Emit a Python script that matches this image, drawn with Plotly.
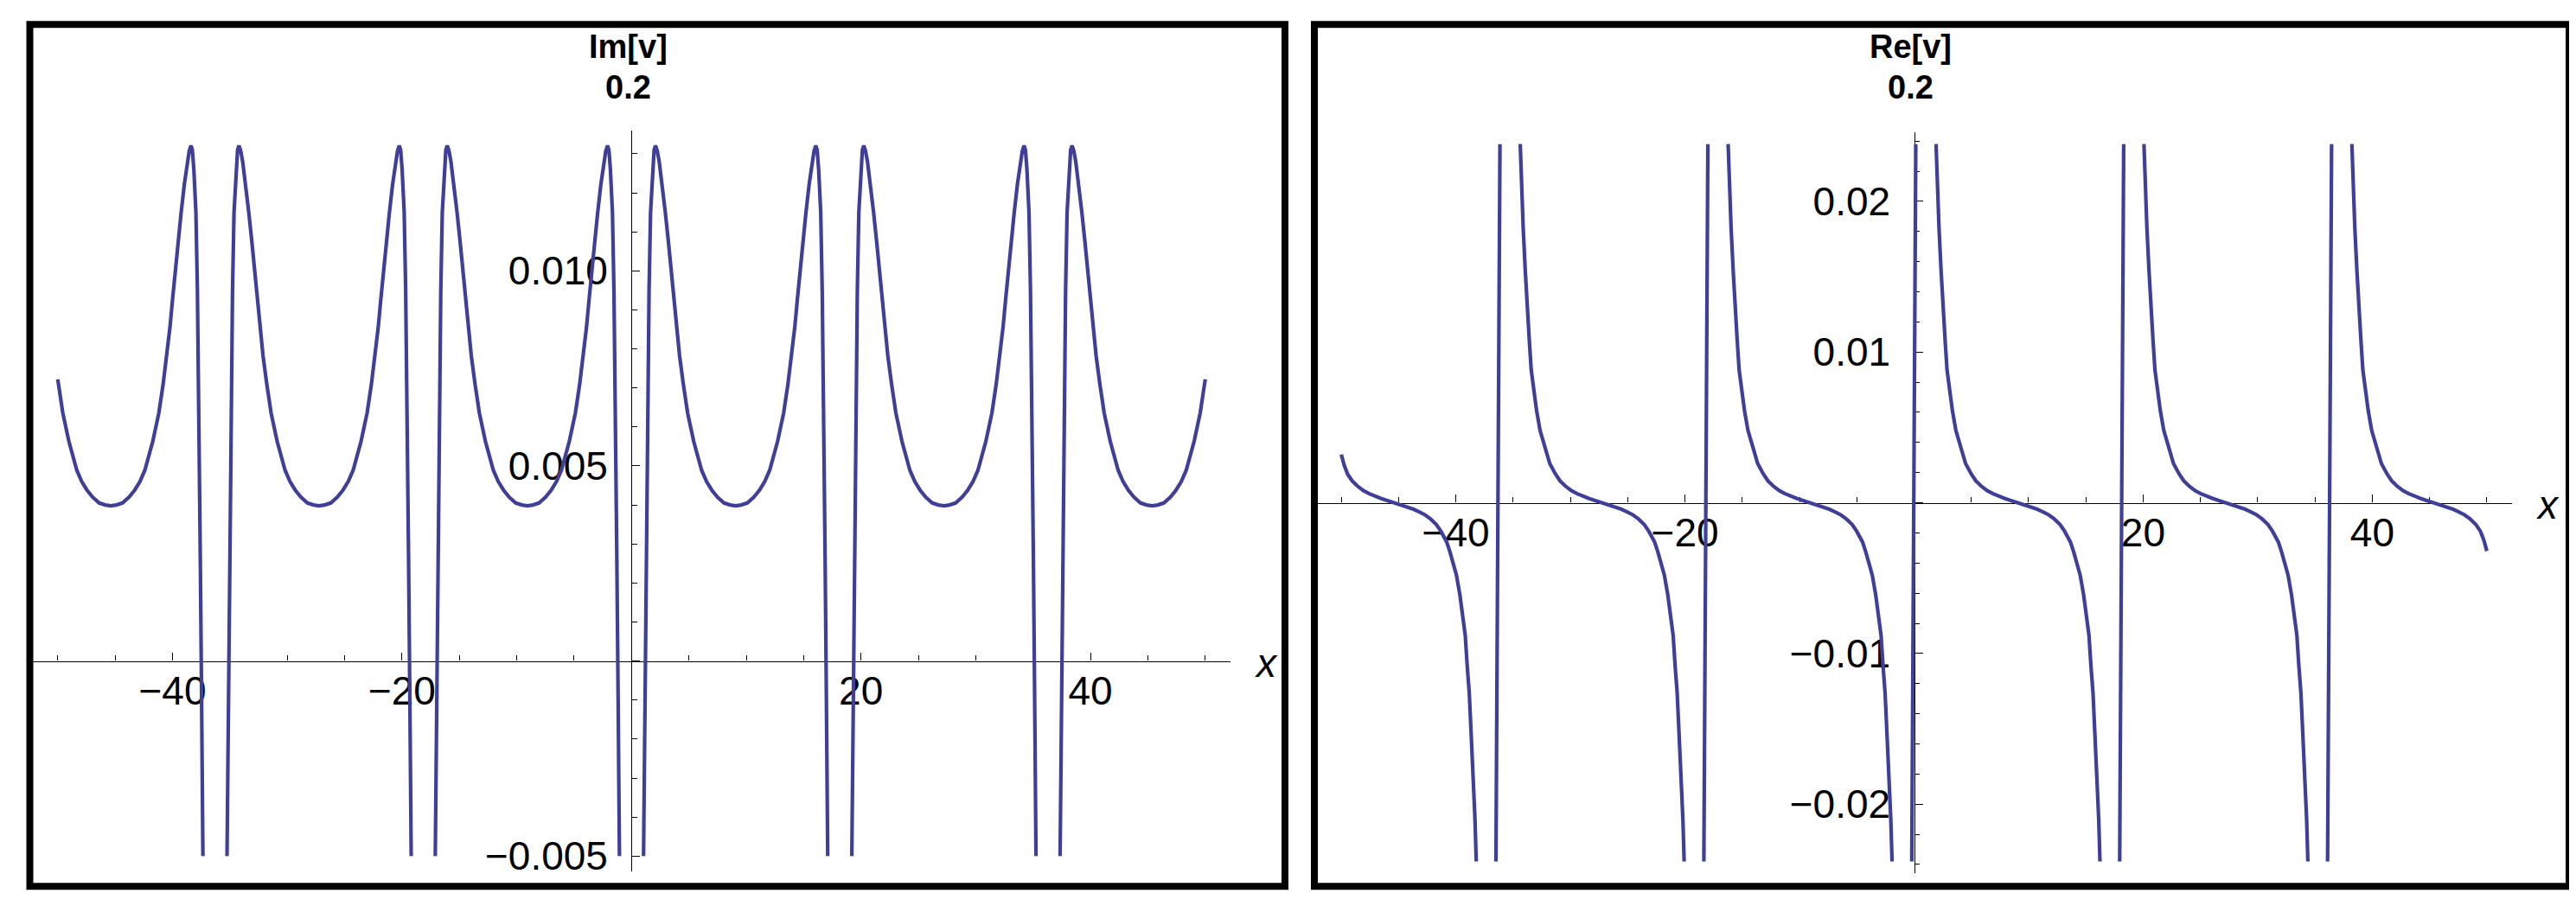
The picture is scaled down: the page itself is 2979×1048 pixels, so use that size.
# plot.py
#
# Two Mathematica-style panels, Im[v] and Re[v] against x,
# with the axes crossing at the origin and a heavy frame round each panel.

import plotly.graph_objects as go


# ── Read-off data ──────────────────────────────────────
# Im[v]: one list per unbroken piece of the curve (the curve runs off
# the bottom of the plot range near x = 0, ±18.15, ±36.3).
im_x_left_end = [-50.00, -49.56, -49.03, -48.34, -47.91, -47.45, -46.96, -46.39, -45.86, -45.38,
                 -44.89, -44.36, -43.79, -43.30, -42.84, -42.41, -41.72, -41.19, -40.82, -40.49,
                 -40.22, -39.99, -39.76, -39.51, -39.25, -38.97, -38.71, -38.54, -38.39, -38.27,
                 -38.14, -37.96, -37.83, -37.76, -37.68, -37.63, -37.58, -37.48, -37.35]
im_y_left_end = [0.00722, 0.00636, 0.00563, 0.00489, 0.00460, 0.00438, 0.00420, 0.00405, 0.00400, 0.00398,
                 0.00400, 0.00405, 0.00420, 0.00438, 0.00460, 0.00489, 0.00563, 0.00636, 0.00709, 0.00782,
                 0.00856, 0.00929, 0.01002, 0.01076, 0.01149, 0.01222, 0.01281, 0.01308, 0.01321, 0.0131,
                 0.0126, 0.0115, 0.0095, 0.0080, 0.0064, 0.0044, 0.0027, -0.0005, -0.0050]

# the four full cells between the drops all read the same heights
im_y_cell = [-0.0050, -0.0005, 0.0027, 0.0044, 0.0064, 0.0080, 0.0095, 0.0115, 0.0126, 0.0131,
             0.01321, 0.01308, 0.01281, 0.01222, 0.01149, 0.01076, 0.01002, 0.00929, 0.00856, 0.00782,
             0.00709, 0.00636, 0.00563, 0.00489, 0.00460, 0.00438, 0.00420, 0.00405, 0.00400, 0.00398,
             0.00400, 0.00405, 0.00420, 0.00438, 0.00460, 0.00489, 0.00563, 0.00636, 0.00709, 0.00782,
             0.00856, 0.00929, 0.01002, 0.01076, 0.01149, 0.01222, 0.01281, 0.01308, 0.01321, 0.0131,
             0.0126, 0.0115, 0.0095, 0.0080, 0.0064, 0.0044, 0.0027, -0.0005, -0.0050]
im_x_cell_1 = [-35.25, -35.12, -35.02, -34.97, -34.92, -34.84, -34.77, -34.64, -34.46, -34.33,
               -34.21, -34.06, -33.89, -33.63, -33.35, -33.09, -32.84, -32.61, -32.38, -32.11,
               -31.78, -31.41, -30.88, -30.19, -29.76, -29.30, -28.81, -28.24, -27.71, -27.23,
               -26.74, -26.21, -25.64, -25.15, -24.69, -24.26, -23.57, -23.04, -22.67, -22.34,
               -22.07, -21.84, -21.61, -21.36, -21.10, -20.82, -20.56, -20.39, -20.24, -20.12,
               -19.99, -19.81, -19.68, -19.61, -19.53, -19.48, -19.43, -19.33, -19.20]
im_x_cell_2 = [-17.10, -16.97, -16.87, -16.82, -16.77, -16.69, -16.62, -16.49, -16.31, -16.18,
               -16.06, -15.91, -15.74, -15.48, -15.20, -14.94, -14.69, -14.46, -14.23, -13.96,
               -13.63, -13.26, -12.73, -12.04, -11.61, -11.15, -10.66, -10.09, -9.56, -9.08,
               -8.59, -8.06, -7.49, -7.00, -6.54, -6.11, -5.42, -4.89, -4.52, -4.19,
               -3.92, -3.69, -3.46, -3.21, -2.95, -2.67, -2.41, -2.24, -2.09, -1.97,
               -1.84, -1.66, -1.53, -1.46, -1.38, -1.33, -1.28, -1.18, -1.05]
im_x_cell_3 = [1.05, 1.18, 1.28, 1.33, 1.38, 1.46, 1.53, 1.66, 1.84, 1.97,
               2.09, 2.24, 2.41, 2.67, 2.95, 3.21, 3.46, 3.69, 3.92, 4.19,
               4.52, 4.89, 5.42, 6.11, 6.54, 7.00, 7.49, 8.06, 8.59, 9.08,
               9.56, 10.09, 10.66, 11.15, 11.61, 12.04, 12.73, 13.26, 13.63, 13.96,
               14.23, 14.46, 14.69, 14.94, 15.20, 15.48, 15.74, 15.91, 16.06, 16.18,
               16.31, 16.49, 16.62, 16.69, 16.77, 16.82, 16.87, 16.97, 17.10]
im_x_cell_4 = [19.20, 19.33, 19.43, 19.48, 19.53, 19.61, 19.68, 19.81, 19.99, 20.12,
               20.24, 20.39, 20.56, 20.82, 21.10, 21.36, 21.61, 21.84, 22.07, 22.34,
               22.67, 23.04, 23.57, 24.26, 24.69, 25.15, 25.64, 26.21, 26.74, 27.23,
               27.71, 28.24, 28.81, 29.30, 29.76, 30.19, 30.88, 31.41, 31.78, 32.11,
               32.38, 32.61, 32.84, 33.09, 33.35, 33.63, 33.89, 34.06, 34.21, 34.33,
               34.46, 34.64, 34.77, 34.84, 34.92, 34.97, 35.02, 35.12, 35.25]

im_x_right_end = [37.35, 37.48, 37.58, 37.63, 37.68, 37.76, 37.83, 37.96, 38.14, 38.27,
                  38.39, 38.54, 38.71, 38.97, 39.25, 39.51, 39.76, 39.99, 40.22, 40.49,
                  40.82, 41.19, 41.72, 42.41, 42.84, 43.30, 43.79, 44.36, 44.89, 45.38,
                  45.86, 46.39, 46.96, 47.45, 47.91, 48.34, 49.03, 49.56, 50.00]
im_y_right_end = [-0.0050, -0.0005, 0.0027, 0.0044, 0.0064, 0.0080, 0.0095, 0.0115, 0.0126, 0.0131,
                  0.01321, 0.01308, 0.01281, 0.01222, 0.01149, 0.01076, 0.01002, 0.00929, 0.00856, 0.00782,
                  0.00709, 0.00636, 0.00563, 0.00489, 0.00460, 0.00438, 0.00420, 0.00405, 0.00400, 0.00398,
                  0.00400, 0.00405, 0.00420, 0.00438, 0.00460, 0.00489, 0.00563, 0.00636, 0.00722]

# Re[v]: branches between the jumps, clipped at the top/bottom of the range
re_x_left_end = [-50.00, -49.75, -49.45, -49.05, -48.55, -48.05, -47.55, -47.05, -46.55, -46.05,
                 -45.375, -44.70, -44.20, -43.70, -43.20, -42.70, -42.20, -41.70, -41.30, -40.80,
                 -40.50, -40.20, -39.95, -39.65, -39.40, -39.18, -39.01, -38.83, -38.66, -38.48,
                 -38.33, -38.22]
re_y_left_end = [0.0032, 0.0025, 0.0019, 0.00145, 0.00108, 0.0008, 0.0006, 0.00043, 0.00029, 0.00016,
                 0.0, -0.00016, -0.00029, -0.00043, -0.0006, -0.0008, -0.00108, -0.00145, -0.0019, -0.0026,
                 -0.0033, -0.0041, -0.0048, -0.0061, -0.0074, -0.0088, -0.0108, -0.0126, -0.0154, -0.0182,
                 -0.0210, -0.0238]

re_y_cell = [0.0238, 0.0210, 0.0182, 0.0154, 0.0126, 0.0108, 0.0088, 0.0074, 0.0061, 0.0048,
             0.0041, 0.0033, 0.0026, 0.0019, 0.00145, 0.00108, 0.0008, 0.0006, 0.00043, 0.00029,
             0.00016, 0.0, -0.00016, -0.00029, -0.00043, -0.0006, -0.0008, -0.00108, -0.00145, -0.0019,
             -0.0026, -0.0033, -0.0041, -0.0048, -0.0061, -0.0074, -0.0088, -0.0108, -0.0126, -0.0154,
             -0.0182, -0.0210, -0.0238]
re_x_cell_1 = [-34.38, -34.27, -34.12, -33.94, -33.77, -33.59, -33.42, -33.20, -32.95, -32.65,
               -32.40, -32.10, -31.80, -31.30, -30.90, -30.40, -29.90, -29.40, -28.90, -28.40,
               -27.90, -27.225, -26.55, -26.05, -25.55, -25.05, -24.55, -24.05, -23.55, -23.15,
               -22.65, -22.35, -22.05, -21.80, -21.50, -21.25, -21.03, -20.86, -20.68, -20.51,
               -20.33, -20.18, -20.07]
re_x_cell_2 = [-16.23, -16.12, -15.97, -15.79, -15.62, -15.44, -15.27, -15.05, -14.80, -14.50,
               -14.25, -13.95, -13.65, -13.15, -12.75, -12.25, -11.75, -11.25, -10.75, -10.25,
               -9.75, -9.075, -8.40, -7.90, -7.40, -6.90, -6.40, -5.90, -5.40, -5.00,
               -4.50, -4.20, -3.90, -3.65, -3.35, -3.10, -2.88, -2.71, -2.53, -2.36,
               -2.18, -2.03, -1.92]
re_x_cell_3 = [1.92, 2.03, 2.18, 2.36, 2.53, 2.71, 2.88, 3.10, 3.35, 3.65,
               3.90, 4.20, 4.50, 5.00, 5.40, 5.90, 6.40, 6.90, 7.40, 7.90,
               8.40, 9.075, 9.75, 10.25, 10.75, 11.25, 11.75, 12.25, 12.75, 13.15,
               13.65, 13.95, 14.25, 14.50, 14.80, 15.05, 15.27, 15.44, 15.62, 15.79,
               15.97, 16.12, 16.23]
re_x_cell_4 = [20.07, 20.18, 20.33, 20.51, 20.68, 20.86, 21.03, 21.25, 21.50, 21.80,
               22.05, 22.35, 22.65, 23.15, 23.55, 24.05, 24.55, 25.05, 25.55, 26.05,
               26.55, 27.225, 27.90, 28.40, 28.90, 29.40, 29.90, 30.40, 30.90, 31.30,
               31.80, 32.10, 32.40, 32.65, 32.95, 33.20, 33.42, 33.59, 33.77, 33.94,
               34.12, 34.27, 34.38]

re_x_right_end = [38.22, 38.33, 38.48, 38.66, 38.83, 39.01, 39.18, 39.40, 39.65, 39.95,
                  40.20, 40.50, 40.80, 41.30, 41.70, 42.20, 42.70, 43.20, 43.70, 44.20,
                  44.70, 45.375, 46.05, 46.55, 47.05, 47.55, 48.05, 48.55, 49.05, 49.45,
                  49.75, 50.00]
re_y_right_end = [0.0238, 0.0210, 0.0182, 0.0154, 0.0126, 0.0108, 0.0088, 0.0074, 0.0061, 0.0048,
                  0.0041, 0.0033, 0.0026, 0.0019, 0.00145, 0.00108, 0.0008, 0.0006, 0.00043, 0.00029,
                  0.00016, 0.0, -0.00016, -0.00029, -0.00043, -0.0006, -0.0008, -0.00108, -0.00145, -0.0019,
                  -0.0025, -0.0032]

# the near-vertical jumps of Re[v], bottom end and top end of each
re_jump_x_bottom = [-36.50, -18.35, -0.20, 17.95, 36.10]
re_jump_x_top = [-36.15, -18.00, 0.15, 18.30, 36.45]
re_jump_y_bottom = -0.0238
re_jump_y_top = 0.0238

# tick positions
x_major = [-40, -20, 0, 20, 40]
im_y_major = [-0.005, 0.0, 0.005, 0.010]
re_y_major = [-0.02, -0.01, 0.0, 0.01, 0.02]


# ── Look ───────────────────────────────────────────────
FIG_W, FIG_H = 2979, 1048
LINE_COLOR = "#3f3f99"
FONT_FAMILY = "Liberation Sans, Arial, sans-serif"
TICK_FONT = dict(family=FONT_FAMILY, size=46, color="black")
TITLE_FONT = dict(family=FONT_FAMILY, size=38, color="black", weight="bold")

X_RANGE = [-52.2, 52.2]
IM_Y_RANGE = [-0.0054, 0.0136]
RE_Y_RANGE = [-0.02458, 0.0246]

# plot boxes in page pixels: left, right, top, bottom
IM_BOX = (29.6, 1415, 144, 1008)
RE_BOX = (1514, 2897, 145.8, 1009.8)

# frames in page pixels (line centres)
FRAMES = [(26.5, 1478, 20.5, 1025), (1512, 2963, 20.5, 1025)]


def joined(xs_list, ys_list):
    """Join pieces into one x/y pair with None gaps between them."""
    xs, ys = [], []
    for px, py in zip(xs_list, ys_list):
        if xs:
            xs.append(None)
            ys.append(None)
        xs.extend(px)
        ys.extend(py)
    return xs, ys


def box_domain(box):
    left, right, top, bottom = box
    return [left / FIG_W, right / FIG_W], [1 - bottom / FIG_H, 1 - top / FIG_H]


def cross_position(dom, rng):
    """Paper position of the value 0 inside an axis domain."""
    return dom[0] + (0 - rng[0]) / (rng[1] - rng[0]) * (dom[1] - dom[0])


im_x, im_y = joined(
    [im_x_left_end, im_x_cell_1, im_x_cell_2, im_x_cell_3, im_x_cell_4, im_x_right_end],
    [im_y_left_end, im_y_cell, im_y_cell, im_y_cell, im_y_cell, im_y_right_end],
)
re_x, re_y = joined(
    [re_x_left_end, re_x_cell_1, re_x_cell_2, re_x_cell_3, re_x_cell_4, re_x_right_end]
    + [[b, t] for b, t in zip(re_jump_x_bottom, re_jump_x_top)],
    [re_y_left_end, re_y_cell, re_y_cell, re_y_cell, re_y_cell, re_y_right_end]
    + [[re_jump_y_bottom, re_jump_y_top] for _ in re_jump_x_bottom],
)

fig = go.Figure()

fig.add_trace(go.Scatter(
    x=im_x, y=im_y, mode="lines", xaxis="x", yaxis="y",
    line=dict(color=LINE_COLOR, width=4.2), showlegend=False, hoverinfo="skip",
))
fig.add_trace(go.Scatter(
    x=re_x, y=re_y, mode="lines", xaxis="x2", yaxis="y2",
    line=dict(color=LINE_COLOR, width=4.2), showlegend=False, hoverinfo="skip",
))

im_xdom, im_ydom = box_domain(IM_BOX)
re_xdom, re_ydom = box_domain(RE_BOX)


def x_axis(dom, ydom, yrng):
    return dict(
        domain=dom, range=X_RANGE, anchor="free",
        position=cross_position(ydom, yrng),
        showline=True, linecolor="black", linewidth=1.3,
        ticks="inside", ticklen=9, tickwidth=1.3, tickcolor="black",
        tickmode="array", tickvals=x_major,
        ticktext=["\u221240", "\u221220", "", "20", "40"],
        minor=dict(tickmode="linear", tick0=0, dtick=5, ticks="inside",
                   ticklen=6, tickwidth=1.2, tickcolor="black", showgrid=False),
        tickfont=TICK_FONT, ticklabelstandoff=-6,
        showgrid=False, zeroline=False, layer="below traces",
    )


def y_axis(dom, xdom, rng, vals, text, minor_step):
    return dict(
        domain=dom, range=rng, anchor="free",
        position=cross_position(xdom, X_RANGE),
        showline=True, linecolor="black", linewidth=1.3,
        ticks="inside", ticklen=9, tickwidth=1.3, tickcolor="black",
        tickmode="array", tickvals=vals, ticktext=text,
        minor=dict(tickmode="linear", tick0=0, dtick=minor_step, ticks="inside",
                   ticklen=5.5, tickwidth=1.2, tickcolor="black", showgrid=False),
        tickfont=TICK_FONT, ticklabelstandoff=18,
        showgrid=False, zeroline=False, layer="below traces",
    )


fig.update_layout(
    width=FIG_W, height=FIG_H, autosize=False,
    margin=dict(l=0, r=0, t=0, b=0),
    paper_bgcolor="white", plot_bgcolor="white",
    font=dict(family=FONT_FAMILY, color="black"),
    showlegend=False,
    xaxis=x_axis(im_xdom, im_ydom, IM_Y_RANGE),
    yaxis=y_axis(im_ydom, im_xdom, IM_Y_RANGE, im_y_major,
                 ["\u22120.005", "", "0.005", "0.010"], 0.001),
    xaxis2=x_axis(re_xdom, re_ydom, RE_Y_RANGE),
    yaxis2=y_axis(re_ydom, re_xdom, RE_Y_RANGE, re_y_major,
                  ["\u22120.02", "\u22120.01", "", "0.01", "0.02"], 0.002),
)

# ── Frames, titles and axis labels ─────────────────────
for x0, x1, y0, y1 in FRAMES:
    fig.add_shape(
        type="rect", xref="paper", yref="paper",
        x0=x0 / FIG_W, x1=x1 / FIG_W, y0=1 - y1 / FIG_H, y1=1 - y0 / FIG_H,
        line=dict(color="black", width=8), fillcolor="rgba(0,0,0,0)",
    )

for xref, yref, name in [("x", "y", "Im[v]"), ("x2", "y2", "Re[v]")]:
    fig.add_annotation(
        x=0, xref=xref, y=1 - 46.5 / FIG_H, yref="paper", xshift=-4,
        text=name, showarrow=False, xanchor="center", yanchor="middle",
        font=TITLE_FONT,
    )
    fig.add_annotation(
        x=0, xref=xref, y=1 - 93.5 / FIG_H, yref="paper", xshift=-4,
        text="0.2", showarrow=False, xanchor="center", yanchor="middle",
        font=TITLE_FONT,
    )
    fig.add_annotation(
        x=1, xref=xref + " domain", y=0, yref=yref, xshift=41, yshift=-2,
        text="x", showarrow=False, xanchor="center", yanchor="middle",
        font=dict(family=FONT_FAMILY, size=46, color="black", style="italic"),
    )

fig.write_html("out.html")
